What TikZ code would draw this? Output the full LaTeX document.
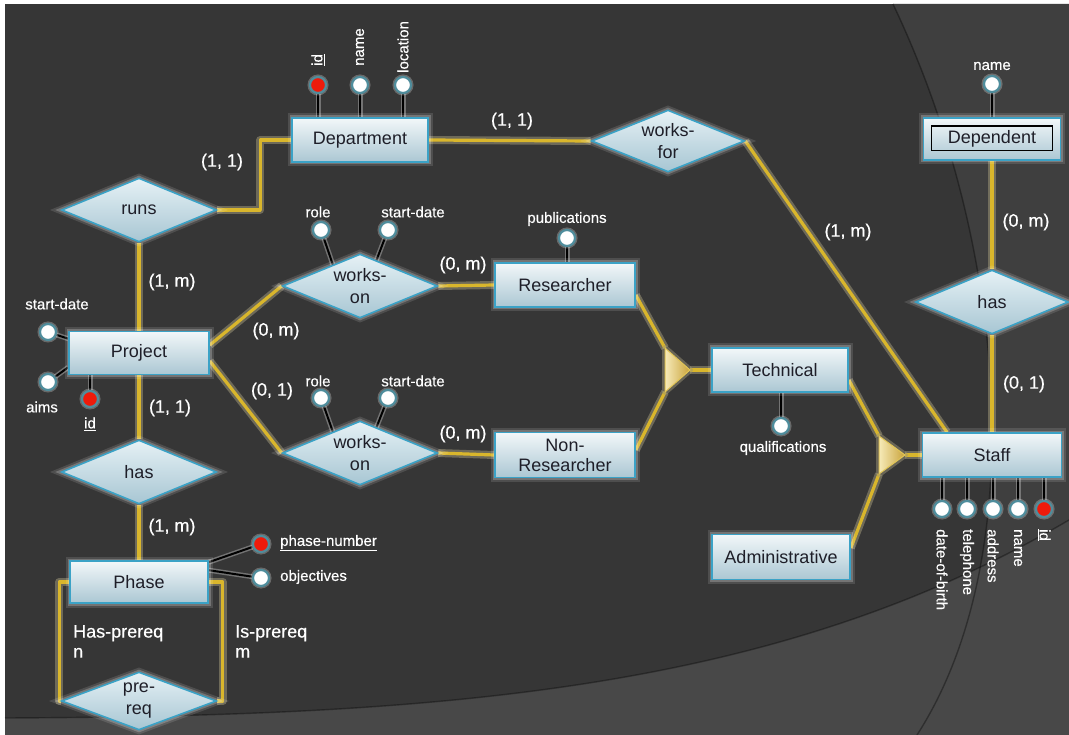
\documentclass[tikz,border=0pt]{standalone}
\usepackage{fontspec}
\setmainfont{Liberation Sans}
\newfontfamily\lblfont{Liberation Sans}[FakeBold=0.4]
\usetikzlibrary{shapes.geometric,calc}
\pgfdeclarelayer{back}
\pgfdeclarelayer{links}
\pgfsetlayers{back,links,main}

\definecolor{bgdark}{HTML}{363636}
\definecolor{bglight}{HTML}{3F3F3F}
\definecolor{bgband}{HTML}{484848}
\definecolor{gold}{HTML}{D9B62C}
\definecolor{goldhalo}{HTML}{9C9577}
\definecolor{frame}{HTML}{3BA2C6}
\definecolor{boxtop}{HTML}{F2F7F9}
\definecolor{boxbot}{HTML}{ABC7D3}
\definecolor{dtop}{HTML}{E6F1F5}
\definecolor{dbot}{HTML}{A7C6D3}
\definecolor{ink}{HTML}{1E1E28}
\definecolor{ringcol}{HTML}{4F8D9C}
\definecolor{keyred}{HTML}{EE1B0B}
\definecolor{isalight}{HTML}{F6EAB8}
\definecolor{isadark}{HTML}{C9A33A}

\tikzset{
  glow/.style={preaction={draw=white,draw opacity=0.12,line width=9pt},
               preaction={draw=white,draw opacity=0.22,line width=5pt}},
  entity/.style={rectangle,draw=frame,line width=1.6pt,top color=boxtop,bottom color=boxbot,
    minimum width=138pt,minimum height=44pt,text=ink,font=\fontsize{18}{22}\selectfont,
    align=center,inner sep=1pt,glow},
  relation/.style={diamond,aspect=2.4,draw=frame,line width=1.6pt,top color=dtop,bottom color=dbot,
    minimum width=155pt,minimum height=64pt,inner sep=0pt,text=ink,
    font=\fontsize{18}{22}\selectfont,align=center,glow},
  attr/.style={circle,draw=ringcol,line width=2.2pt,fill=white,minimum size=16pt,inner sep=0pt,
    preaction={draw=white,draw opacity=0.25,line width=5pt}},
  keyattr/.style={attr,fill=keyred},
  link/.style={draw=gold,line width=3.2pt,line join=round,
    preaction={draw=goldhalo,draw opacity=0.55,line width=8pt,line join=round}},
  stem/.style={draw=black,line width=2pt,preaction={draw=gray!70,draw opacity=0.55,line width=5pt}},
  lbl/.style={text=white,font=\lblfont\fontsize{15}{17}\selectfont,inner sep=0pt},
  card/.style={text=white,font=\lblfont\fontsize{18}{20}\selectfont,inner sep=0pt},
  isa/.style={left color=isalight,right color=isadark,draw=gold!80!white,line width=1pt,line join=round,
    preaction={draw=goldhalo,draw opacity=0.5,line width=6pt,line join=round}}
}

\begin{document}
\begin{tikzpicture}[x=1pt,y=-1pt]
\useasboundingbox (0,0) rectangle (1069,735);

% backdrop
\begin{pgfonlayer}{back}
  \fill[white] (0,0) rectangle (1069,735);
  \fill[bgdark] (5,4) rectangle (1069,735);
  \fill[bglight] (893,4) .. controls (1010,250) and (1030,560) .. (917,735)
    -- (1069,735) -- (1069,4) -- cycle;
  \fill[bgband] (5,718) .. controls (450,716) and (780,690) .. (1069,520)
    -- (1069,735) -- (5,735) -- cycle;
  \draw[black,opacity=0.35,line width=1.4pt] (893,4) .. controls (1010,250) and (1030,560) .. (917,735);
  \draw[black,opacity=0.35,line width=1.4pt] (5,718) .. controls (450,716) and (780,690) .. (1069,520);
\end{pgfonlayer}

% entities
\node[entity,minimum width=136pt] (dept) at (360,140) {Department};
\node[entity,minimum width=137pt,minimum height=42pt] (dep) at (992,139) {Dependent};
\draw[black,line width=1.4pt] ([shift={(9pt,-9pt)}]dep.north west) rectangle ([shift={(-9pt,10pt)}]dep.south east);
\node[entity,minimum width=140pt,minimum height=43pt] (proj) at (139,353) {Project};
\node[entity,minimum height=42pt] (phase) at (139,582) {Phase};
\node[entity,minimum width=140pt] (res) at (565,285) {Researcher};
\node[entity,minimum width=140pt,minimum height=45pt] (nonres) at (565,455) {Non-\\[-2pt]Researcher};
\node[entity,minimum width=136pt] (tech) at (780,370) {Technical};
\node[entity,minimum height=45pt] (admin) at (781,557) {Administrative};
\node[entity,minimum width=139pt] (staff) at (992,455) {Staff};

% relationships
\node[relation] (runs) at (139,210) {runs};
\node[relation,minimum width=153pt,minimum height=62pt] (wf) at (668,141) {works-\\for};
\node[relation,minimum width=153pt] (hasd) at (992,302) {has};
\node[relation] (wo1) at (360,286) {works-\\on};
\node[relation] (wo2) at (360,453) {works-\\on};
\node[relation] (hasp) at (139,472) {has};
\node[relation,minimum height=58pt] (prereq) at (139,701) {pre-\\req};

% specialisation triangles
\coordinate (t1a) at (665,348);
\coordinate (t1b) at (665,392);
\coordinate (t1c) at (690,370);
\coordinate (t2a) at (879,436);
\coordinate (t2b) at (879,474);
\coordinate (t2c) at (905,455);
\path[isa] (t1a) -- (t1c) -- (t1b) -- cycle;
\path[isa] (t2a) -- (t2c) -- (t2b) -- cycle;

% attribute circles
\node[keyattr] (d-id) at (318,85) {};
\node[attr] (d-name) at (360,85) {};
\node[attr] (d-loc) at (403,85) {};
\node[attr] (dep-name) at (992,84) {};
\node[attr] (p-start) at (48,332) {};
\node[attr] (p-aims) at (48,382) {};
\node[keyattr] (p-id) at (90,399) {};
\node[attr] (wo1-role) at (321,230) {};
\node[attr] (wo1-start) at (388,230) {};
\node[attr] (wo2-role) at (321,398) {};
\node[attr] (wo2-start) at (388,398) {};
\node[attr] (r-pub) at (567,238) {};
\node[attr] (t-qual) at (781,426) {};
\node[keyattr] (ph-num) at (261,544) {};
\node[attr] (ph-obj) at (261,578) {};
\node[attr] (s-dob) at (942,509) {};
\node[attr] (s-tel) at (967,509) {};
\node[attr] (s-addr) at (993,509) {};
\node[attr] (s-name) at (1018,509) {};
\node[keyattr] (s-id) at (1044,509) {};

% attribute names
\node[lbl,rotate=90,anchor=west] (l-did) at (318,66) {\underline{id}};
\node[lbl,rotate=90,anchor=west] (l-dname) at (360,66) {name};
\node[lbl,rotate=90,anchor=west] (l-dloc) at (403,73) {location};
\node[lbl] (l-depname) at (992,66) {name};
\node[lbl] (l-pstart) at (57,304) {start-date};
\node[lbl] (l-paims) at (42,407) {aims};
\node[lbl] (l-pid) at (90,424) {\underline{id}};
\node[lbl] (l-w1role) at (318,212) {role};
\node[lbl] (l-w1start) at (413,212) {start-date};
\node[lbl] (l-w2role) at (318,381) {role};
\node[lbl] (l-w2start) at (413,381) {start-date};
\node[lbl] (l-pub) at (567,219) {publications};
\node[lbl] (l-qual) at (783,448) {qualifications};
\node[lbl,anchor=west] (l-phnum) at (280,543) {\underline{phase-number}};
\node[lbl,anchor=west] (l-phobj) at (280,577) {objectives};
\node[lbl,rotate=-90,anchor=west] (l-sdob) at (942,529) {date-of-birth};
\node[lbl,rotate=-90,anchor=west] (l-stel) at (967,529) {telephone};
\node[lbl,rotate=-90,anchor=west] (l-saddr) at (993,529) {address};
\node[lbl,rotate=-90,anchor=west] (l-sname) at (1018,529) {name};
\node[lbl,rotate=-90,anchor=west] (l-sid) at (1044,529) {\underline{id}};

% cardinalities
\node[card] (c1) at (222,162) {(1, 1)};
\node[card] (c2) at (512,121) {(1, 1)};
\node[card] (c3) at (848,232) {(1, m)};
\node[card] (c4) at (1026,222) {(0, m)};
\node[card] (c5) at (1024,384) {(0, 1)};
\node[card] (c6) at (172,282) {(1, m)};
\node[card] (c7) at (276,331) {(0, m)};
\node[card] (c8) at (272,391) {(0, 1)};
\node[card] (c9) at (170,408) {(1, 1)};
\node[card] (c10) at (172,527) {(1, m)};
\node[card] (c11) at (463,265) {(0, m)};
\node[card] (c12) at (463,434) {(0, m)};
\node[card,align=left,anchor=north west] (c13) at (73,625) {Has-prereq\\n};
\node[card,align=left,anchor=north west] (c14) at (235,625) {Is-prereq\\m};

% connectors and attribute stems
\begin{pgfonlayer}{links}
  \draw[link] (runs.east) -- ++(43,0) |- (dept.west);
  \draw[link] (dept.east) -- (wf.west);
  \draw[link] (wf.east) -- ([xshift=-45pt]staff.north);
  \draw[link] (dep.south) -- (hasd.north);
  \draw[link] (hasd.south) -- (staff.north);
  \draw[link] (runs.south) -- (proj.north);
  \draw[link] (proj.south) -- (hasp.north);
  \draw[link] (hasp.south) -- (phase.north);
  \draw[link] (phase.west) -- ++(-10,0) |- (prereq.west);
  \draw[link] (phase.east) -- ++(14,0) |- (prereq.east);
  \draw[link] ([yshift=8pt]proj.east) -- (wo1.west);
  \draw[link] ([yshift=-8pt]proj.east) -- (wo2.west);
  \draw[link] (wo1.east) -- (res.west);
  \draw[link] (wo2.east) -- (nonres.west);
  \draw[link] ([yshift=-10pt]res.east) -- (t1a);
  \draw[link] ([yshift=5pt]nonres.east) -- (t1b);
  \draw[link] (t1c) -- (tech.west);
  \draw[link] ([yshift=-10pt]tech.east) -- (t2a);
  \draw[link] ([yshift=9pt]admin.east) -- (t2b);
  \draw[link] (t2c) -- (staff.west);

  \draw[stem] (d-id) -- (d-id |- dept.north);
  \draw[stem] (d-name) -- (d-name |- dept.north);
  \draw[stem] (d-loc) -- (d-loc |- dept.north);
  \draw[stem] (dep-name) -- (dep-name |- dep.north);
  \draw[stem] (p-start) -- ([yshift=-8pt]proj.north west);
  \draw[stem] (p-aims) -- ([yshift=8pt]proj.south west);
  \draw[stem] (p-id) -- (p-id |- proj.south);
  \draw[stem] (wo1-role) -- ($(wo1)+(-26,-18)$);
  \draw[stem] (wo1-start) -- ($(wo1)+(15,-22)$);
  \draw[stem] (wo2-role) -- ($(wo2)+(-26,-18)$);
  \draw[stem] (wo2-start) -- ($(wo2)+(15,-22)$);
  \draw[stem] (r-pub) -- (r-pub |- res.north);
  \draw[stem] (t-qual) -- (t-qual |- tech.south);
  \draw[stem] (ph-num) -- ([yshift=-2pt]phase.north east);
  \draw[stem] (ph-obj) -- ([yshift=-10pt]phase.north east);
  \draw[stem] (s-dob) -- (s-dob |- staff.south);
  \draw[stem] (s-tel) -- (s-tel |- staff.south);
  \draw[stem] (s-addr) -- (s-addr |- staff.south);
  \draw[stem] (s-name) -- (s-name |- staff.south);
  \draw[stem] (s-id) -- (s-id |- staff.south);
\end{pgfonlayer}
\end{tikzpicture}
\end{document}
